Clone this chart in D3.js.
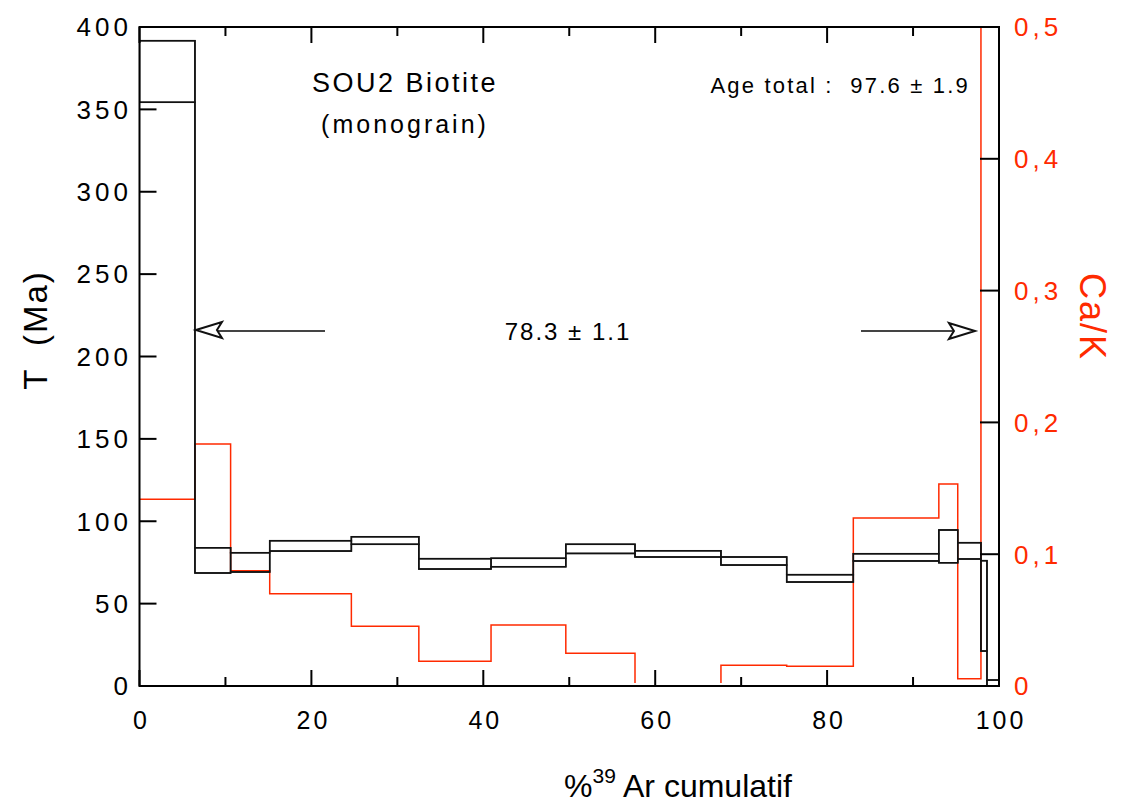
<!DOCTYPE html>
<html><head><meta charset="utf-8">
<script src="https://cdn.jsdelivr.net/npm/d3@7"></script>
<style>
html,body{margin:0;padding:0;background:#fff;}
svg{display:block;font-family:"Liberation Sans",Arial,Helvetica,sans-serif;}
</style></head>
<body>
<svg id="c" width="1122" height="808"></svg>
<script>
// ---- data ----
const stepEdges = [0, 6.45, 10.6, 15.15, 24.65, 32.5, 40.9, 49.6, 57.65, 67.65, 75.3, 83.05, 93.0, 95.2, 97.9, 98.6, 100];
const ages      = [373.0, 76.25, 75.05, 85.05, 88.3, 74.15, 74.95, 83.25, 80.2, 75.85, 65.35, 78.1, 84.75, 82.05, 48.65, -18.2];
const ageErrs   = [18.7, 7.65, 5.85, 3.15, 2.3, 3.15, 2.55, 2.75, 1.9, 2.45, 2.25, 2.2, 9.95, 4.95, 27.45, 21.8];
const caK       = [0.1417, 0.1836, 0.0875, 0.070, 0.0453, 0.0187, 0.0463, 0.0248, -0.02, 0.0157, 0.0149, 0.1275, 0.1533, 0.0055, 0.9, 0.9];
const xTicksMajor = [0, 20, 40, 60, 80, 100];
const xTicksMinor = [10, 30, 50, 70, 90];
const yTicks  = [0, 50, 100, 150, 200, 250, 300, 350, 400];
const y2Ticks = [0, 0.1, 0.2, 0.3, 0.4, 0.5];
const y2TickLabels = ["0", "0,1", "0,2", "0,3", "0,4", "0,5"];
const plateauStart = 6.45, plateauEnd = 97.2;
const plateauLabel = "78.3 ± 1.1";
const totalAgeLabel = "Age total :  97.6 ± 1.9";
const sampleTitle = "SOU2 Biotite";
const sampleSub = "(monograin)";

// ---- layout ----
const L = 139.5, R = 999, T = 27, B = 686;
const RED = "#ff2a00";
const svg = d3.select("#c");
const x = d3.scaleLinear().domain([0, 100]).range([L, R]);
const y = d3.scaleLinear().domain([0, 400]).range([B, T]);
const y2 = d3.scaleLinear().domain([0, 0.5]).range([B, T]);

const defs = svg.append("defs");
defs.append("clipPath").attr("id", "clipA").append("rect").attr("x", L).attr("y", T).attr("width", R - L).attr("height", B - T);
defs.append("clipPath").attr("id", "clipR").append("rect").attr("x", L).attr("y", T).attr("width", R - L).attr("height", B - T - 3);

const steps = ages.map((a, i) => ({x0: stepEdges[i], x1: stepEdges[i + 1], hi: a + ageErrs[i], lo: a - ageErrs[i], ck: caK[i]}));

function stepPath(acc) {
  let p = "";
  steps.forEach((s, i) => {
    const v = acc(s);
    p += (i === 0 ? "M" : "L") + x(s.x0) + "," + v + "L" + x(s.x1) + "," + v;
  });
  return p;
}

// Ca/K red step line
svg.append("path").attr("clip-path", "url(#clipR)")
  .attr("d", stepPath(s => y2(s.ck)))
  .attr("fill", "none").attr("stroke", RED).attr("stroke-width", 1.5);

// age boxes
const g = svg.append("g").attr("clip-path", "url(#clipA)");
g.selectAll("rect.box").data(steps).join("rect")
  .attr("x", d => x(d.x0)).attr("width", d => x(d.x1) - x(d.x0))
  .attr("y", d => y(d.hi)).attr("height", d => y(d.lo) - y(d.hi))
  .attr("fill", "none").attr("stroke", "#111").attr("stroke-width", 1.5);
g.append("path").attr("d", stepPath(s => y(s.hi))).attr("fill", "none").attr("stroke", "#111").attr("stroke-width", 1.5);
g.append("path").attr("d", stepPath(s => y(s.lo))).attr("fill", "none").attr("stroke", "#111").attr("stroke-width", 1.5);

// frame
svg.append("rect").attr("x", L).attr("y", T).attr("width", R - L).attr("height", B - T)
  .attr("fill", "none").attr("stroke", "#000").attr("stroke-width", 2);

// ticks
const tk = svg.append("g").attr("stroke", "#000").attr("stroke-width", 2);
yTicks.forEach(v => tk.append("line").attr("x1", L).attr("x2", L + 17).attr("y1", y(v)).attr("y2", y(v)));
y2Ticks.forEach(v => tk.append("line").attr("x1", R - 19).attr("x2", R).attr("y1", y2(v)).attr("y2", y2(v)));
xTicksMajor.forEach(v => {
  tk.append("line").attr("x1", x(v)).attr("x2", x(v)).attr("y1", B).attr("y2", B - 16);
  tk.append("line").attr("x1", x(v)).attr("x2", x(v)).attr("y1", T).attr("y2", T + 16);
});
xTicksMinor.forEach(v => {
  tk.append("line").attr("x1", x(v)).attr("x2", x(v)).attr("y1", B).attr("y2", B - 9);
  tk.append("line").attr("x1", x(v)).attr("x2", x(v)).attr("y1", T).attr("y2", T + 9);
});

// tick labels
svg.append("g").selectAll("text").data(yTicks).join("text")
  .attr("x", 132).attr("y", d => y(d)).attr("dy", "0.36em")
  .attr("text-anchor", "end").attr("font-size", 26).attr("letter-spacing", "4px")
  .text(d => d);
svg.append("g").selectAll("text").data(xTicksMajor).join("text")
  .attr("x", d => x(d) + 2).attr("y", 720).attr("dy", "0.36em")
  .attr("text-anchor", "middle").attr("font-size", 25).attr("letter-spacing", "3px")
  .text(d => d);
svg.append("g").selectAll("text").data(y2Ticks).join("text")
  .attr("x", 1014).attr("y", d => y2(d)).attr("dy", "0.36em")
  .attr("fill", RED).attr("font-size", 26).attr("letter-spacing", "4px")
  .text((d, i) => y2TickLabels[i]);

// axis titles
svg.append("text").attr("transform", "translate(47,330) rotate(-90)")
  .attr("text-anchor", "middle").attr("font-size", 33).attr("letter-spacing", "2px")
  .style("white-space", "pre").text("T  (Ma)");
svg.append("text").attr("transform", "translate(1080,317) rotate(90)")
  .attr("text-anchor", "middle").attr("font-size", 36).attr("letter-spacing", "2px").attr("fill", RED).text("Ca/K");
const xt = svg.append("text").attr("x", 678).attr("y", 797).attr("text-anchor", "middle").attr("font-size", 32);
xt.append("tspan").text("%");
xt.append("tspan").attr("dy", -14).attr("font-size", 21).text("39");
xt.append("tspan").attr("dy", 14).text(" Ar cumulatif");

// annotations
svg.append("text").attr("x", 405).attr("y", 92).attr("text-anchor", "middle").attr("font-size", 27).attr("letter-spacing", "2.5px").text(sampleTitle);
svg.append("text").attr("x", 405).attr("y", 133).attr("text-anchor", "middle").attr("font-size", 25).attr("letter-spacing", "3px").text(sampleSub);
svg.append("text").attr("x", 970).attr("y", 93).attr("text-anchor", "end").attr("font-size", 22).attr("letter-spacing", "2.2px").style("white-space", "pre").text(totalAgeLabel);
svg.append("text").attr("x", 568).attr("y", 340).attr("text-anchor", "middle").attr("font-size", 24).attr("letter-spacing", "2px").text(plateauLabel);

// arrows
const ay = 330;
const lt = x(plateauStart), rt = x(plateauEnd);
const ar = svg.append("g").attr("fill", "none").attr("stroke", "#111").attr("stroke-width", 2);
ar.append("line").attr("x1", lt + 22).attr("x2", 325).attr("y1", ay + 1).attr("y2", ay + 1).attr("stroke", "#444");
ar.append("path").attr("d", `M${lt + 1},${ay} L${lt + 27},${ay - 8} L${lt + 22},${ay} L${lt + 27},${ay + 8} Z`).attr("fill", "#fff").attr("stroke-linejoin", "miter");
ar.append("line").attr("x1", 861).attr("x2", rt - 22).attr("y1", ay + 1).attr("y2", ay + 1).attr("stroke", "#444");
ar.append("path").attr("d", `M${rt},${ay + 1} L${rt - 26},${ay - 7} L${rt - 21},${ay + 1} L${rt - 26},${ay + 9} Z`).attr("fill", "#fff").attr("stroke-linejoin", "miter");
</script>
</body></html>
